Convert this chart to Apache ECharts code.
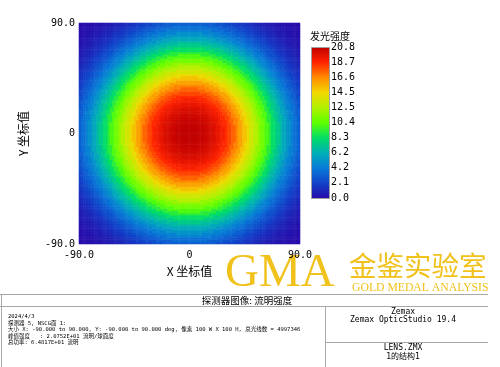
<!DOCTYPE html>
<html><head><meta charset="utf-8">
<script src="https://cdn.jsdelivr.net/npm/echarts@6/dist/echarts.min.js"></script>
<style>html,body{margin:0;padding:0;background:#fff}#c{width:500px;height:367px}</style>
</head><body><div id="c"></div>
<script>
const profileStepDeg = 3;
const radialProfile = [20.8, 20.78, 20.72, 20.62, 20.48, 20.3, 20.05, 19.75, 19.4, 19.0,
  18.55, 18.0, 17.4, 16.7, 15.95, 15.15, 14.3, 13.45, 12.6, 11.75,
  10.9, 10.05, 9.2, 8.35, 7.5, 6.7, 5.9, 5.15, 4.45, 3.8,
  3.2, 2.65, 2.15, 1.75, 1.4, 1.1, 0.85, 0.65, 0.5, 0.35,
  0.25, 0.18, 0.12, 0.08];
const pixelsX = 100, pixelsY = 100;
const extentDeg = 90;
const peakValue = 20.752;
const xTickValues = [-90, 0, 90];
const xTickLabels = ['-90.0', '0', '90.0'];
const yTickValues = [-90, 0, 90];
const yTickLabels = ['-90.0', '0', '90.0'];
const colorbarTicks = ['0.0', '2.1', '4.2', '6.2', '8.3', '10.4', '12.5', '14.5', '16.6', '18.7', '20.8'];
const colorbarColors = ['#2a08a8', '#1240c8', '#0878d8', '#00aeb8', '#00dc68', '#5cff00', '#b0f200', '#f2d800', '#ff8a00', '#ff2200', '#c00000'];
const infoLines = [
  '2024/4/3',
  '探测器 5, NSCG面 1:',
  '大小 X: -90.000 to 90.000, Y: -90.000 to 90.000 deg, 像素 100 W X 100 H, 总光线数 = 4997346',
  '峰值强度   : 2.0752E+01 流明/球面度',
  '总功率: 6.4817E+01 流明'
];

// build heatmap cells from the radial profile (nearest radial sample)
const xCats = [], yCats = [], cells = [];
const cellDeg = 2 * extentDeg / pixelsX;
for (let i = 0; i < pixelsX; i++) xCats.push(i);
for (let j = 0; j < pixelsY; j++) yCats.push(j);
for (let i = 0; i < pixelsX; i++) {
  const xd = -extentDeg + cellDeg * (i + 0.5);
  for (let j = 0; j < pixelsY; j++) {
    const yd = -extentDeg + cellDeg * (j + 0.5);
    const r = Math.sqrt(xd * xd + yd * yd);
    const k = Math.min(radialProfile.length - 1, Math.round(r / profileStepDeg));
    cells.push([i, j, radialProfile[k]]);
  }
}

const mono = '"DejaVu Sans Mono", "Noto Sans CJK SC", monospace';
const cjk = '"Noto Sans CJK SC", sans-serif';
const gold = '#f1c11c';
const lineColor = '#a8a8a8';

const chart = echarts.init(document.getElementById('c'), null, {renderer: 'canvas'});
chart.setOption({
  animation: false,
  backgroundColor: '#fff',
  grid: [
    {left: 79, top: 23, width: 221, height: 221},
    {left: 311, top: 47, width: 18, height: 151}
  ],
  xAxis: [
    {type: 'category', gridIndex: 0, data: xCats, show: false},
    {type: 'value', gridIndex: 1, show: false},
    {type: 'value', gridIndex: 0, min: -90, max: 90, interval: 90, position: 'bottom',
      axisLine: {show: false}, axisTick: {show: false}, splitLine: {show: false},
      axisLabel: {margin: 6, color: '#000', fontFamily: mono, fontSize: 10,
        showMinLabel: true, showMaxLabel: true,
        formatter: v => xTickLabels[xTickValues.indexOf(v)]},
      name: 'X 坐标值', nameLocation: 'middle', nameGap: 21,
      nameTextStyle: {fontFamily: cjk, fontSize: 12, color: '#000'}}
  ],
  yAxis: [
    {type: 'category', gridIndex: 0, data: yCats, show: false},
    {type: 'category', gridIndex: 1, data: colorbarTicks, boundaryGap: false, position: 'right',
      axisLine: {show: false}, axisTick: {show: false}, splitLine: {show: false},
      axisLabel: {margin: 2, color: '#000', fontFamily: mono, fontSize: 10, interval: 0}},
    {type: 'value', gridIndex: 0, min: -90, max: 90, interval: 90, position: 'left',
      axisLine: {show: false}, axisTick: {show: false}, splitLine: {show: false},
      axisLabel: {margin: 4, color: '#000', fontFamily: mono, fontSize: 10,
        showMinLabel: true, showMaxLabel: true,
        formatter: v => yTickLabels[yTickValues.indexOf(v)]},
      name: 'Y 坐标值', nameLocation: 'middle', nameGap: 50, nameRotate: 90,
      nameTextStyle: {fontFamily: cjk, fontSize: 12, color: '#000'}}
  ],
  visualMap: {
    show: false, type: 'continuous', min: 0, max: peakValue, seriesIndex: 0,
    inRange: {color: colorbarColors}
  },
  series: [{
    type: 'heatmap', xAxisIndex: 0, yAxisIndex: 0, data: cells,
    progressive: 0, emphasis: {disabled: true}
  }],
  graphic: [
    {type: 'rect', z: 10, shape: {x: 311.5, y: 47.5, width: 18, height: 151},
      style: {stroke: '#a0a0a0', lineWidth: 1,
        fill: new echarts.graphic.LinearGradient(0, 1, 0, 0,
          colorbarColors.map((c, i) => ({offset: i / (colorbarColors.length - 1), color: c})))}},
    {type: 'text', x: 310, y: 31, style: {text: '发光强度', fontFamily: cjk, fontSize: 10, fill: '#000'}},
    // watermark
    {type: 'text', z: 0, x: 225, y: 250, style: {text: 'GMA', fontFamily: '"Liberation Serif", serif', fontSize: 47, fill: gold}},
    {type: 'text', z: 0, x: 349, y: 252, style: {text: '金鉴实验室', fontFamily: cjk, fontSize: 27.5, fill: gold}},
    {type: 'text', z: 0, x: 352, y: 281.5, style: {text: 'GOLD MEDAL ANALYSIS', fontFamily: '"Liberation Serif", serif', fontSize: 11.7, fill: gold}},
    // info panel
    {type: 'line', shape: {x1: 0, y1: 294.5, x2: 488, y2: 294.5}, style: {stroke: lineColor, lineWidth: 1}},
    {type: 'line', shape: {x1: 0, y1: 306.5, x2: 488, y2: 306.5}, style: {stroke: lineColor, lineWidth: 1}},
    {type: 'line', shape: {x1: 1.5, y1: 294, x2: 1.5, y2: 367}, style: {stroke: lineColor, lineWidth: 1}},
    {type: 'line', shape: {x1: 325.5, y1: 306, x2: 325.5, y2: 367}, style: {stroke: lineColor, lineWidth: 1}},
    {type: 'line', shape: {x1: 325, y1: 342.5, x2: 488, y2: 342.5}, style: {stroke: lineColor, lineWidth: 1}},
    {type: 'text', x: 247, y: 300, style: {text: '探测器图像: 流明强度', fontFamily: cjk, fontSize: 9.5, fill: '#000', align: 'center', verticalAlign: 'middle'}},
    ...infoLines.map((t, i) => ({type: 'text', x: 8, y: 317 + i * 6.5,
      style: {text: t, fontFamily: mono, fontSize: 5.5, fill: '#000', verticalAlign: 'middle'}})),
    {type: 'text', x: 403, y: 312, style: {text: 'Zemax', fontFamily: mono, fontSize: 8, fill: '#000', align: 'center', verticalAlign: 'middle'}},
    {type: 'text', x: 403, y: 319.5, style: {text: 'Zemax OpticStudio 19.4', fontFamily: mono, fontSize: 8, fill: '#000', align: 'center', verticalAlign: 'middle'}},
    {type: 'text', x: 403, y: 348, style: {text: 'LENS.ZMX', fontFamily: mono, fontSize: 8, fill: '#000', align: 'center', verticalAlign: 'middle'}},
    {type: 'text', x: 403, y: 357, style: {text: '1的结构1', fontFamily: mono, fontSize: 8, fill: '#000', align: 'center', verticalAlign: 'middle'}}
  ]
});
</script></body></html>
